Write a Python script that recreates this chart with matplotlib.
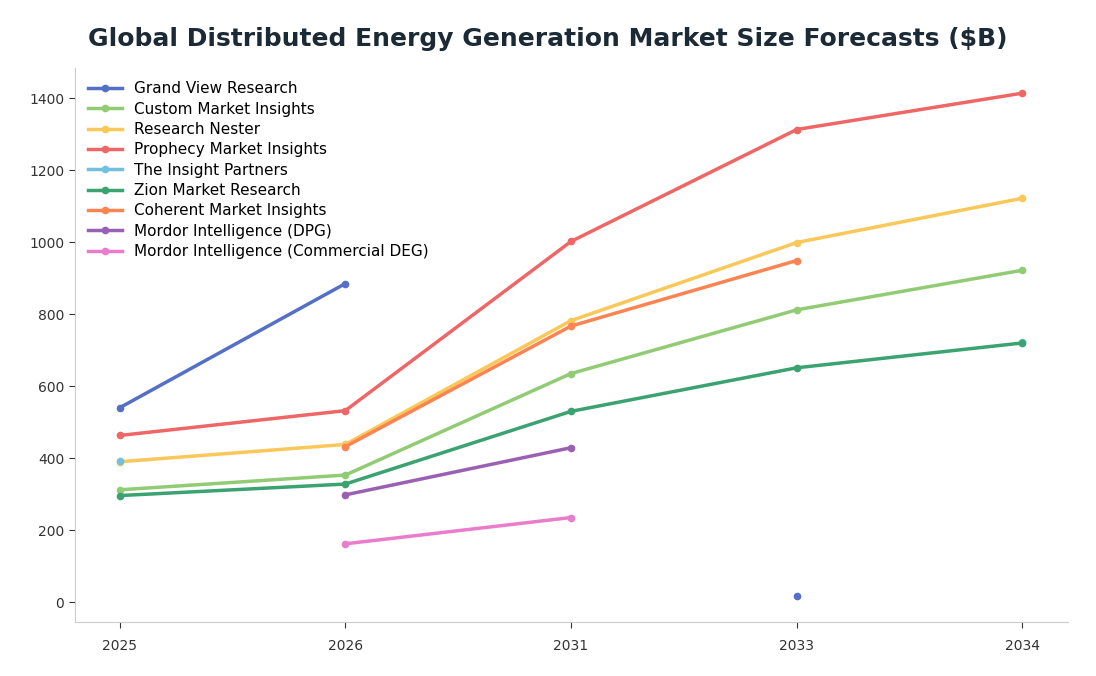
import matplotlib.pyplot as plt
import numpy as np

nan = np.nan
years = ["2025", "2026", "2031", "2033", "2034"]
series = {
    "Grand View Research": [540, 885, nan, 18, nan],
    "Custom Market Insights": [312, 353, 635, 812, 922],
    "Research Nester": [390, 438, 782, 999, 1122],
    "Prophecy Market Insights": [463, 532, 1002, 1313, 1414],
    "The Insight Partners": [393, nan, nan, nan, 722],
    "Zion Market Research": [296, 328, 530, 651, 720],
    "Coherent Market Insights": [nan, 432, 767, 949, nan],
    "Mordor Intelligence (DPG)": [nan, 298, 429, nan, nan],
    "Mordor Intelligence (Commercial DEG)": [nan, 162, 235, nan, nan],
}
colors = ["#5470c6", "#91cc75", "#fac858", "#ee6666", "#73c0de",
          "#3ba272", "#fc8452", "#9a60b4", "#ea7ccc"]

fig = plt.figure(figsize=(10.96, 6.76), dpi=100)
ax = fig.add_axes([0.068, 0.08, 0.906, 0.82])
x = np.arange(len(years))
for (name, vals), c in zip(series.items(), colors):
    ax.plot(x, vals, color=c, lw=2.5, marker="o", ms=4.5, label=name)
ax.set_xticks(x, years)
ax.set_xlim(-0.2, 4.2)
ax.set_ylim(-55, 1485)
ax.set_yticks(range(0, 1401, 200))
for s in ["top", "right"]:
    ax.spines[s].set_visible(False)
for s in ["left", "bottom"]:
    ax.spines[s].set_color("#cccccc")
ax.tick_params(colors="#333333", labelsize=10, length=4)
ax.tick_params(axis="x", pad=8)
fig.suptitle("Global Distributed Energy Generation Market Size Forecasts ($B)",
             fontsize=18, fontweight="bold", color="#1b2a35", y=0.96)
ax.legend(loc="upper left", frameon=False, fontsize=11, handlelength=2.2,
          labelspacing=0.35, bbox_to_anchor=(0.0, 1.0))
fig.savefig("out.png", dpi=100)
